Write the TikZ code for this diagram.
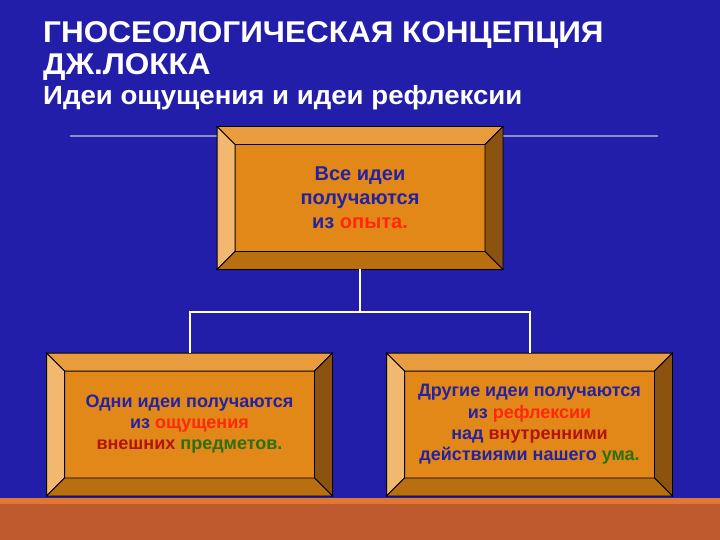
\documentclass[tikz,border=0pt]{standalone}
\usepackage{fontspec}
\setmainfont{Liberation Sans}
\newfontfamily\headfont[FakeStretch=1.05]{Liberation Sans}
\definecolor{slide}{RGB}{34,30,170}
\definecolor{floor}{RGB}{190,89,46}
\definecolor{floorline}{RGB}{222,120,52}
\definecolor{rulegrey}{RGB}{140,140,200}
\definecolor{face}{RGB}{226,136,24}
\definecolor{bevtop}{RGB}{232,156,62}
\definecolor{bevleft}{RGB}{242,184,112}
\definecolor{bevright}{RGB}{140,82,16}
\definecolor{bevbottom}{RGB}{185,110,16}
\definecolor{inkblue}{RGB}{36,34,160}
\definecolor{inkred}{RGB}{255,40,10}
\definecolor{inkdark}{RGB}{176,20,10}
\definecolor{inkgreen}{RGB}{44,112,16}

% frame of a box: four bevel strips round the face
\newcommand{\bevel}[1]{%
\filldraw[fill=bevtop,line width=.8pt] (#1.north west) -- (#1.north east) -- ([shift={(-18,18)}]#1.north east) -- ([shift={(18,18)}]#1.north west) -- cycle;
\filldraw[fill=bevleft,line width=.8pt] (#1.north west) -- ([shift={(18,18)}]#1.north west) -- ([shift={(18,-18)}]#1.south west) -- (#1.south west) -- cycle;
\filldraw[fill=bevright,line width=.8pt] (#1.north east) -- (#1.south east) -- ([shift={(-18,-18)}]#1.south east) -- ([shift={(-18,18)}]#1.north east) -- cycle;
\filldraw[fill=bevbottom,line width=.8pt] (#1.south west) -- ([shift={(18,-18)}]#1.south west) -- ([shift={(-18,-18)}]#1.south east) -- (#1.south east) -- cycle;
}

\begin{document}
\begin{tikzpicture}[x=1pt,y=-1pt,
  box/.style={draw, line width=.8pt, fill=face, minimum width=285, minimum height=142, align=center, text=inkblue, font=\bfseries},
  wire/.style={draw=white, line width=2pt},
  title/.style={anchor=base west, inner sep=0, text=white, font=\bfseries}]
\fill[slide] (0,0) rectangle (720,540);
\useasboundingbox (0,0) rectangle (720,540);
\fill[floor] (0,498) rectangle (720,540);
\fill[floorline] (0,498) rectangle (720,504);

\node[title, font=\headfont\bfseries\fontsize{30}{32}\selectfont] (head1) at (43,43) {ГНОСЕОЛОГИЧЕСКАЯ КОНЦЕПЦИЯ};
\node[title, font=\headfont\bfseries\fontsize{30}{32}\selectfont] (head2) at (43,75) {ДЖ.ЛОККА};
\node[title, font=\headfont\bfseries\fontsize{26.3}{30}\selectfont] (head3) at (43,105) {Идеи ощущения и идеи рефлексии};
\draw[rulegrey, line width=1.5pt] (70,136) -- (658,136);

\node[box, font=\bfseries\fontsize{20}{24}\selectfont] (all) at (360,198)
  {Все идеи\\получаются\\из {\color{inkred}опыта.}};
\bevel{all}

\node[box, font=\bfseries\fontsize{18}{21}\selectfont] (sens) at (189.5,424.5)
  {Одни идеи получаются\\из {\color{inkred}ощущения}\\{\color{inkdark}внешних} {\color{inkgreen}предметов.}};
\bevel{sens}

\node[box, font=\bfseries\fontsize{18}{21.3}\selectfont] (refl) at (529.5,424.5)
  {Другие идеи получаются\\из {\color{inkred}рефлексии}\\над {\color{inkdark}внутренними}\\действиями нашего {\color{inkgreen}ума.}};
\bevel{refl}

\draw[wire] (all.south) -- ++(0,43) coordinate (fork);
\draw[wire] (fork) -| (sens.north);
\draw[wire] (fork) -| (refl.north);
\end{tikzpicture}
\end{document}
